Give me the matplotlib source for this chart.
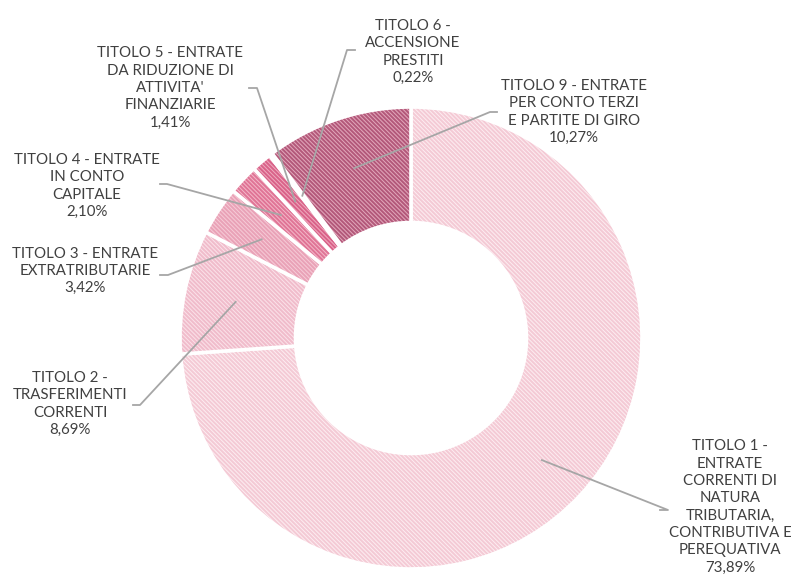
import numpy as np
import matplotlib
matplotlib.use('Agg')
import matplotlib.pyplot as plt
from matplotlib.patches import Wedge

plt.rcParams['font.family'] = ['Lato', 'DejaVu Sans']
plt.rcParams['hatch.linewidth'] = 1.4

labels = [
    'TITOLO 1 -\nENTRATE\nCORRENTI DI\nNATURA\nTRIBUTARIA,\nCONTRIBUTIVA E\nPEREQUATIVA',
    'TITOLO 2 -\nTRASFERIMENTI\nCORRENTI',
    'TITOLO 3 - ENTRATE\nEXTRATRIBUTARIE',
    'TITOLO 4 - ENTRATE\nIN CONTO\nCAPITALE',
    "TITOLO 5 - ENTRATE\nDA RIDUZIONE DI\nATTIVITA'\nFINANZIARIE",
    'TITOLO 6 -\nACCENSIONE\nPRESTITI',
    'TITOLO 9 - ENTRATE\nPER CONTO TERZI\nE PARTITE DI GIRO',
]
values = [73.89, 8.69, 3.42, 2.10, 1.41, 0.22, 10.27]
face_colors = ['#fdedf1', '#fbe2e9', '#f6cbd7', '#f3b8c8', '#efaabe', '#e8a0b5', '#e2a8bb']
hatch_colors = ['#f4cad5', '#f0bccb', '#e9a2b7', '#e07496', '#d96289', '#c85078', '#b3587a']

# label centres (px) -> layout only
label_px = [(730, 507), (70, 404), (85, 271), (87, 186), (170, 88), (413, 52), (574, 112)]
# where the leader leaves the label (px), and the horizontal elbow length
line_px = [(660, 510), (133, 405), (160, 275), (160, 184), (249, 88), (355, 50), (497, 112)]
elbow = [8, 7, 8, 7, 8, -8, -7]

W, H = 791, 585
cx, cy, R = 411, 338, 231

fig = plt.figure(figsize=(W / 100, H / 100), dpi=100)
ax = fig.add_axes([0, 0, 1, 1])
ax.set_xlim(-cx / R, (W - cx) / R)
ax.set_ylim(-(H - cy) / R, cy / R)
ax.set_aspect('equal')
ax.axis('off')

def to_data(p):
    return ((p[0] - cx) / R, (cy - p[1]) / R)

total = sum(values)
angle = 90.0
inner = 0.5
for i, v in enumerate(values):
    sweep = v / total * 360
    a1, a0 = angle, angle - sweep
    w = Wedge((0, 0), 1.0, a0, a1, width=1 - inner, facecolor=face_colors[i],
              edgecolor=hatch_colors[i], hatch='\\' * 8, linewidth=0)
    ax.add_patch(w)
    ax.add_patch(Wedge((0, 0), 1.0, a0, a1, width=1 - inner, facecolor='none',
                       edgecolor='white', linewidth=2.6))
    mid = np.deg2rad((a0 + a1) / 2)
    anchor = (0.775 * np.cos(mid), 0.775 * np.sin(mid))
    lx, ly = to_data(line_px[i])
    ex, ey = to_data((line_px[i][0] + elbow[i], line_px[i][1]))
    ax.plot([lx, ex, anchor[0]], [ly, ey, anchor[1]], color='#a6a6a6', lw=1.3, zorder=5)
    tx, ty = to_data(label_px[i])
    txt = labels[i] + '\n' + f'{v:.2f}'.replace('.', ',') + '%'
    ax.text(tx, ty, txt, ha='center', va='center', fontsize=10.8,
            color='#404040', linespacing=1.3, zorder=6)
    angle = a0

fig.savefig('out.png', dpi=100)
